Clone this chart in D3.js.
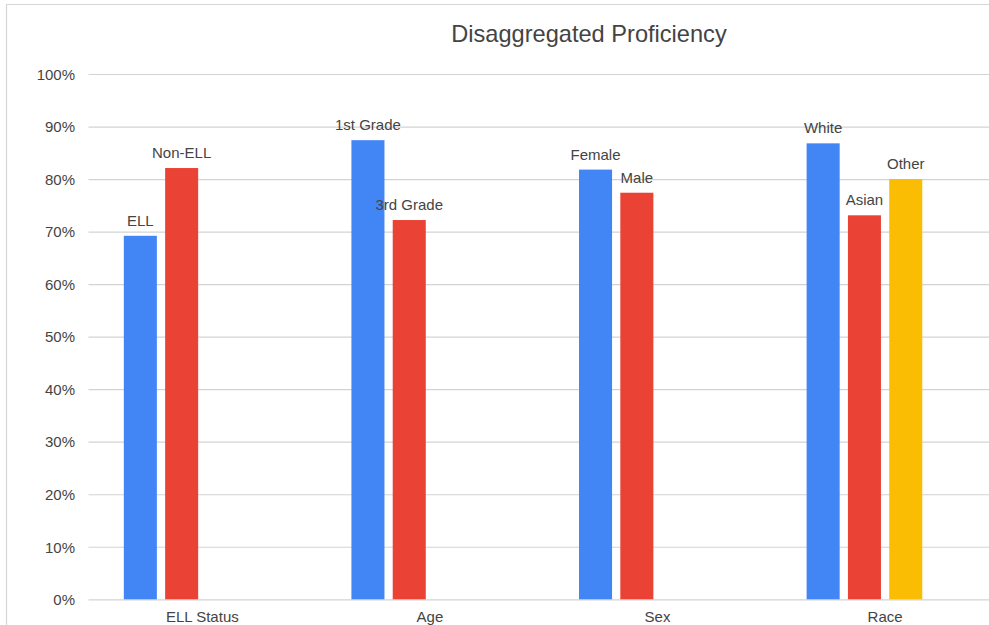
<!DOCTYPE html>
<html>
<head>
<meta charset="utf-8">
<script src="https://cdn.jsdelivr.net/npm/d3@7"></script>
<style>
  html, body { margin: 0; padding: 0; background: #fff; }
  svg { display: block; font-family: "Liberation Sans", Arial, sans-serif; }
</style>
</head>
<body>
<svg id="chart" width="989" height="625"></svg>
<script>
// Proficiency broken down by subgroup
const title = "Disaggregated Proficiency";
const categories = ["ELL Status", "Age", "Sex", "Race"];
const barLabels = [
  ["ELL", "Non-ELL"],
  ["1st Grade", "3rd Grade"],
  ["Female", "Male"],
  ["White", "Asian", "Other"]
];
const barValues = [
  [0.692, 0.821],
  [0.874, 0.722],
  [0.818, 0.774],
  [0.868, 0.731, 0.800]
];
// one slot per series column; the fourth column has no values
const seriesColors = ["#4285F4", "#EA4335", "#FBBC04", "#34A853"];
const yTicks = [0, 0.1, 0.2, 0.3, 0.4, 0.5, 0.6, 0.7, 0.8, 0.9, 1.0];

const svg = d3.select("#chart");
const plot = { left: 88.5, top: 74, bottom: 599.3, width: 910.4 };

// frame of the chart card
svg.append("path")
  .attr("d", `M6.5,625 V4.5 H989`)
  .attr("fill", "none")
  .attr("stroke", "#d6d6d6")
  .attr("stroke-width", 1.2);

const x0 = d3.scaleBand()
  .domain(categories)
  .range([plot.left, plot.left + plot.width])
  .padding(0);

const x1 = d3.scaleBand()
  .domain(d3.range(seriesColors.length))
  .range([0, x0.bandwidth()])
  .paddingInner(0.2)
  .paddingOuter(0.855);

const y = d3.scaleLinear()
  .domain([0, 1])
  .range([plot.bottom, plot.top]);

// y axis with gridlines
const yAxis = svg.append("g")
  .attr("transform", `translate(${plot.left},0)`)
  .call(d3.axisLeft(y)
    .tickValues(yTicks)
    .tickFormat(d3.format(".0%"))
    .tickSize(-plot.width)
    .tickPadding(13.5));
yAxis.select(".domain").remove();
yAxis.selectAll(".tick line")
  .attr("stroke", "#d3d3d3")
  .attr("stroke-width", 1.2);
yAxis.selectAll(".tick text")
  .attr("fill", "#444")
  .attr("font-size", 15)
  .attr("dy", "0.35em")
  .style("font-family", "'Liberation Sans', Arial, sans-serif");

// x axis category labels
const xAxis = svg.append("g")
  .attr("transform", `translate(0,${plot.bottom})`)
  .call(d3.axisBottom(x0).tickSize(0).tickPadding(0));
xAxis.select(".domain").remove();
xAxis.selectAll(".tick text")
  .attr("fill", "#444")
  .attr("font-size", 15)
  .attr("y", 22.7)
  .attr("dy", 0)
  .style("font-family", "'Liberation Sans', Arial, sans-serif");

// bars and their labels
const bars = [];
categories.forEach((cat, ci) => {
  barValues[ci].forEach((v, si) => {
    bars.push({ cat, si, value: v, label: barLabels[ci][si] });
  });
});

const groups = svg.append("g");
groups.selectAll("rect")
  .data(bars)
  .join("rect")
  .attr("x", d => x0(d.cat) + x1(d.si))
  .attr("y", d => y(d.value))
  .attr("width", x1.bandwidth())
  .attr("height", d => y(0) - y(d.value))
  .attr("fill", d => seriesColors[d.si]);

groups.selectAll("text")
  .data(bars)
  .join("text")
  .attr("x", d => x0(d.cat) + x1(d.si) + x1.bandwidth() / 2)
  .attr("y", d => y(d.value) - 10)
  .attr("text-anchor", "middle")
  .attr("font-size", 15)
  .attr("fill", "#444")
  .text(d => d.label);

// title
svg.append("text")
  .attr("x", 589)
  .attr("y", 42)
  .attr("text-anchor", "middle")
  .attr("font-size", 23.6)
  .attr("fill", "#444")
  .text(title);
</script>
</body>
</html>
